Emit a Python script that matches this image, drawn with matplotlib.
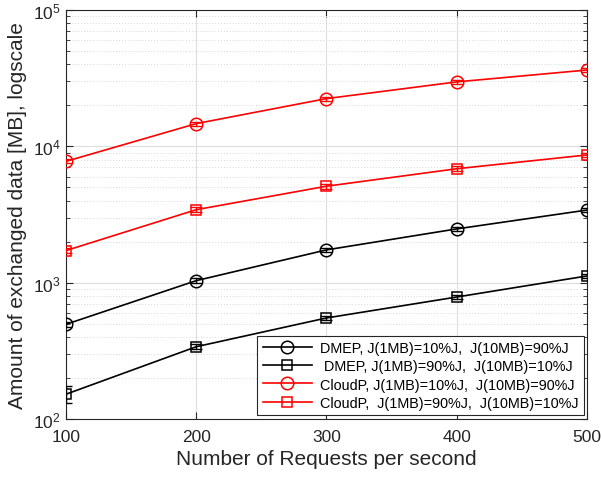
import matplotlib

matplotlib.use("Agg")
import matplotlib.pyplot as plt
from matplotlib.ticker import LogLocator, NullFormatter

plt.rcParams["font.family"] = ["Liberation Sans", "DejaVu Sans"]
plt.rcParams["mathtext.fontset"] = "custom"
plt.rcParams["mathtext.rm"] = "Liberation Sans"
plt.rcParams["mathtext.it"] = "Liberation Sans:italic"

requests = [100, 200, 300, 400, 500]

dmep_10_90 = [495, 1035, 1740, 2480, 3410]
dmep_90_10 = [152, 339, 551, 785, 1120]
cloudp_10_90 = [7760, 14680, 22400, 29700, 36300]
cloudp_90_10 = [1720, 3430, 5100, 6850, 8650]

# relative error bar half-widths
err_dmep_10_90 = [0.04, 0.04, 0.04, 0.04, 0.04]
err_dmep_90_10 = [0.14, 0.04, 0.04, 0.04, 0.04]
err_cloudp_10_90 = [0.035, 0.035, 0.035, 0.035, 0.035]
err_cloudp_90_10 = [0.04, 0.04, 0.04, 0.04, 0.04]

labels = [
    "DMEP, J(1MB)=10%J,  J(10MB)=90%J",
    " DMEP, J(1MB)=90%J,  J(10MB)=10%J",
    "CloudP, J(1MB)=10%J,  J(10MB)=90%J",
    "CloudP,  J(1MB)=90%J,  J(10MB)=10%J",
]

series = [
    (dmep_10_90, err_dmep_10_90, "black", "o", 9),
    (dmep_90_10, err_dmep_90_10, "black", "s", 7),
    (cloudp_10_90, err_cloudp_10_90, "red", "o", 9),
    (cloudp_90_10, err_cloudp_90_10, "red", "s", 7),
]

fig = plt.figure(figsize=(6.01, 4.81), dpi=100)
ax = fig.add_axes([0.1098, 0.1268, 0.8669, 0.8503])

handles = []
for (values, rel, color, marker, size), label in zip(series, labels):
    yerr = [v * r for v, r in zip(values, rel)]
    ax.errorbar(requests, values, yerr=yerr, fmt="none", ecolor=color,
                elinewidth=1.0, capsize=4, capthick=1.0, zorder=3)
    (line,) = ax.plot(requests, values, color=color, marker=marker,
                      markersize=size, markerfacecolor="none",
                      markeredgecolor=color, markeredgewidth=1.1,
                      linewidth=1.2, label=label, zorder=4)
    handles.append(line)

ax.set_yscale("log")
ax.set_xlim(100, 500)
ax.set_ylim(1e2, 1e5)
ax.set_xticks(requests)
ax.yaxis.set_major_locator(LogLocator(base=10, numticks=10))
ax.yaxis.set_minor_locator(LogLocator(base=10, subs=range(2, 10), numticks=20))
ax.yaxis.set_minor_formatter(NullFormatter())

ax.grid(True, which="major", color="#dedede", linewidth=0.8, linestyle="-")
ax.grid(True, which="minor", axis="y", color="#d8d8d8", linewidth=0.7,
        linestyle=(0, (1, 2)))
ax.set_axisbelow(True)

ax.tick_params(which="both", direction="in", top=True, right=True,
               labelsize=12.5, colors="#262626")
ax.tick_params(axis="x", which="major", pad=7)
ax.tick_params(axis="y", which="major", pad=4)
ax.tick_params(which="major", length=5)
ax.tick_params(which="minor", length=3)
for spine in ax.spines.values():
    spine.set_color("#262626")
    spine.set_linewidth(0.8)

ax.set_xlabel("Number of Requests per second", fontsize=15, color="#262626",
              labelpad=4)
ax.set_ylabel("Amount of exchanged data [MB], logscale", fontsize=15,
              color="#262626", labelpad=4)

leg = ax.legend(handles=handles, loc="lower right", fontsize=10.4,
                frameon=True, fancybox=False, edgecolor="#262626",
                framealpha=1, handlelength=3.4, borderpad=0.35,
                labelspacing=0.3, handletextpad=0.6, borderaxespad=0,
                bbox_to_anchor=(0.994, 0.01))
leg.get_frame().set_linewidth(0.8)

fig.savefig("out.png", dpi=100)
